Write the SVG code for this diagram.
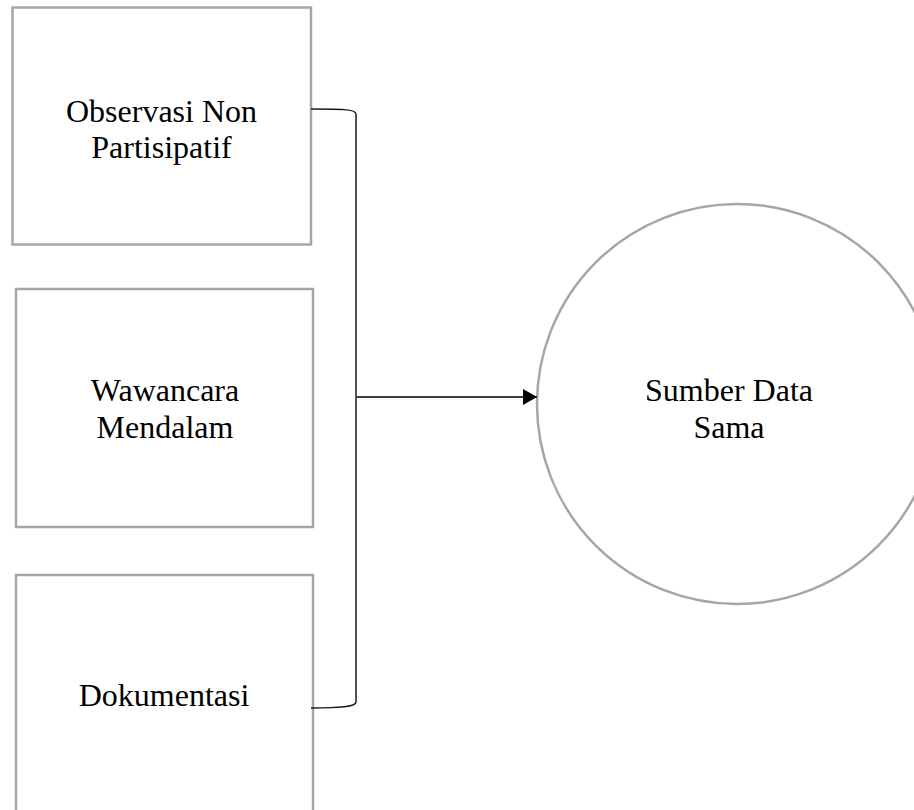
<svg xmlns="http://www.w3.org/2000/svg" width="914" height="810" viewBox="0 0 914 810">
  <style>
    .box { fill: #ffffff; stroke: #a6a6a6; stroke-width: 2.5; }
    .lbl { font-family: "Liberation Serif", "Times New Roman", serif; font-size: 32px; fill: #000000; text-anchor: middle; }
    .conn { fill: none; stroke: #1a1a1a; stroke-width: 1.5; }
    .arrow { fill: none; stroke: #404040; stroke-width: 1.8; }
  </style>
  <defs>
    <marker id="head" markerUnits="userSpaceOnUse" markerWidth="15" markerHeight="17" refX="14" refY="8" orient="auto">
      <path d="M0,0 L14,8 L0,16 Z" fill="#000000"/>
    </marker>
  </defs>
  <rect width="914" height="810" fill="#ffffff"/>

  <g id="node-observasi">
    <rect class="box" x="12.5" y="7.5" width="298.5" height="237"/>
    <text class="lbl" x="161.5" y="122">Observasi Non</text>
    <text class="lbl" x="161.5" y="158">Partisipatif</text>
  </g>

  <g id="node-wawancara">
    <rect class="box" x="16" y="289" width="297" height="238"/>
    <text class="lbl" x="165" y="401">Wawancara</text>
    <text class="lbl" x="165" y="438">Mendalam</text>
  </g>

  <g id="node-dokumentasi">
    <rect class="box" x="16" y="575" width="297" height="238"/>
    <text class="lbl" x="164" y="706">Dokumentasi</text>
  </g>

  <g id="node-sumber">
    <circle class="box" cx="737" cy="404" r="200"/>
    <text class="lbl" x="729" y="401">Sumber Data</text>
    <text class="lbl" x="729" y="438">Sama</text>
  </g>

  <g id="connectors">
    <path class="conn" d="M311,109 C340,109 356,109 356,114 L356,702 C356,707 340,708 311,708"/>
    <line class="arrow" x1="356" y1="397" x2="537" y2="397" marker-end="url(#head)"/>
  </g>
</svg>
